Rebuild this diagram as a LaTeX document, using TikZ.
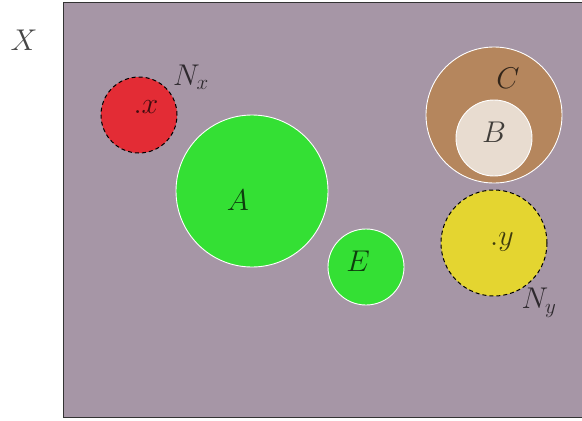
\RequirePackage{fix-cm}
\documentclass[tikz,border=0pt]{standalone}
\begin{document}
\begin{tikzpicture}[x=1pt,y=-1pt,
  lbl/.style={text=black,text opacity=0.72,inner sep=0pt,font=\fontsize{30}{36}\selectfont},
  setw/.style={circle,draw=white,line width=0.9pt,inner sep=0pt},
  setd/.style={circle,draw=black,dash pattern=on 4pt off 3pt,line width=1pt,inner sep=0pt}]
\useasboundingbox (0,0) rectangle (582,421);
\clip (0,0) rectangle (582,421);
\definecolor{bgc}{HTML}{A696A6}
\definecolor{redc}{HTML}{E32C35}
\definecolor{greenc}{HTML}{34E034}
\definecolor{brownc}{HTML}{B5865D}
\definecolor{beigec}{HTML}{E8DCD0}
\definecolor{yellowc}{HTML}{E4D530}
\node[draw=black!80,line width=1pt,fill=bgc,minimum width=540pt,minimum height=415pt,anchor=north west,inner sep=0pt] (X) at (63,2) {};
\node[lbl] (Xl) at (24,40) {$X$};
\node[setd,fill=redc,minimum size=76pt] (Nx) at (139,115) {};
\node[setw,fill=greenc,minimum size=152pt] (A) at (252,191) {};
\node[setw,fill=greenc,minimum size=76pt] (E) at (366,267) {};
\node[setw,fill=brownc,minimum size=136pt] (C) at (494,115) {};
\node[setw,fill=beigec,minimum size=76pt] (B) at (494,138) {};
\node[setd,fill=yellowc,minimum size=106pt] (Ny) at (494,243) {};
\node[lbl] (xl) at (146,107) {$.x$};
\node[lbl] (Nxl) at (191,77) {$N_x$};
\node[lbl] (Al) at (238,200) {$A$};
\node[lbl] (El) at (358,261) {$E$};
\node[lbl] (Cl) at (508,78) {$C$};
\node[lbl] (Bl) at (494,132) {$B$};
\node[lbl] (yl) at (502,242) {$.y$};
\node[lbl] (Nyl) at (539,303) {$N_y$};
\end{tikzpicture}
\end{document}
